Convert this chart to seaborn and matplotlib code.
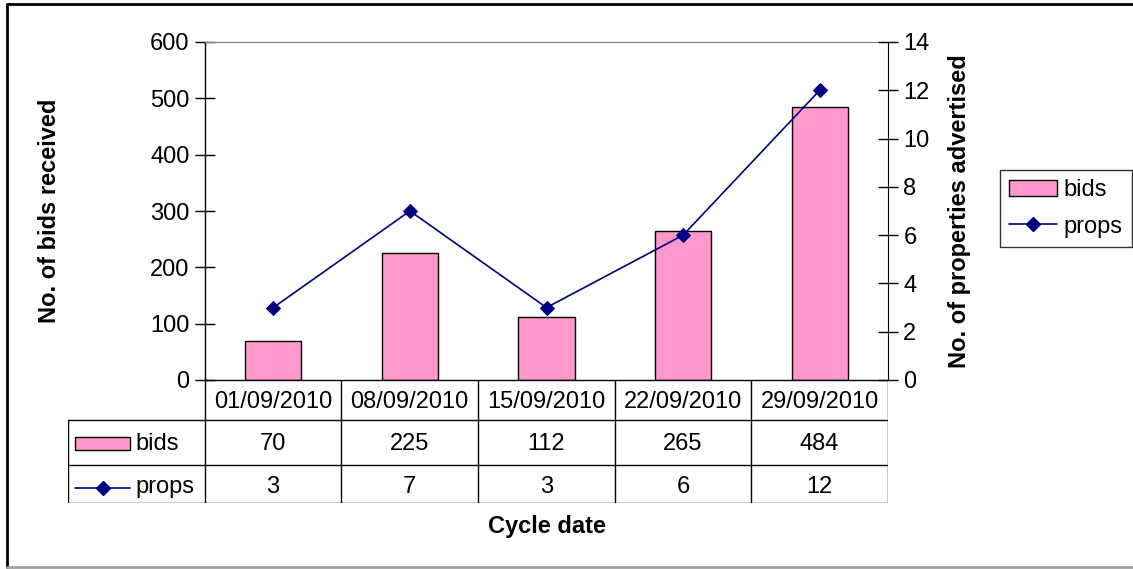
import numpy as np
import pandas as pd
import matplotlib
matplotlib.use("Agg")
import matplotlib.pyplot as plt
from matplotlib.patches import Rectangle
from matplotlib.lines import Line2D
import seaborn as sns

dates = ["01/09/2010", "08/09/2010", "15/09/2010", "22/09/2010", "29/09/2010"]
bids = [70, 225, 112, 265, 484]
props = [3, 7, 3, 6, 12]
series_names = ["bids", "props"]
left_ticks = [0, 100, 200, 300, 400, 500, 600]
right_ticks = [0, 2, 4, 6, 8, 10, 12, 14]

sns.set_style("white")
plt.rcParams['font.family'] = ['Liberation Sans', 'DejaVu Sans']
for k in ["text.color", "axes.labelcolor", "xtick.color", "ytick.color"]:
    plt.rcParams[k] = "black"

W, H = 1133, 569
fig = plt.figure(figsize=(W / 100, H / 100), dpi=100)

PINK = "#FF99CC"
NAVY = "#000080"
FS = 17

def fx(px):
    return px / W

def fy(py):
    return 1 - py / H

# main axes
ax = fig.add_axes([fx(205), fy(380), fx(888) - fx(205), fy(42) - fy(380)])
df = pd.DataFrame({"date": dates, "bids": bids, "props": props})
sns.barplot(data=df, x="date", y="bids", ax=ax, color=PINK, edgecolor="black",
            linewidth=1, width=0.41, saturation=1)
ax.set_xlim(-0.5, len(dates) - 0.5)
ax.set_ylim(left_ticks[0], left_ticks[-1])
ax.set_yticks(left_ticks)
ax.set_xticks([])
ax.set_xlabel("")
ax.set_ylabel("No. of bids received", fontsize=FS, fontweight="bold")
ax.yaxis.set_label_coords((61 - 205) / 683, 0.5)
ax.tick_params(axis="y", direction="inout", length=14, width=1, labelsize=FS, pad=4, left=True)
for s in ["left", "bottom"]:
    ax.spines[s].set_color("black")
    ax.spines[s].set_linewidth(1)
ax.spines["top"].set_color("#808080")
ax.spines["right"].set_visible(False)

ax2 = ax.twinx()
sns.lineplot(x=np.arange(len(dates)), y=props, ax=ax2, color=NAVY, marker="D",
             markersize=7, markeredgecolor=NAVY, linewidth=1.2)
ax2.set_xlim(-0.5, len(dates) - 0.5)
ax2.set_ylim(right_ticks[0], right_ticks[-1])
ax2.set_yticks(right_ticks)
ax2.set_ylabel("No. of properties advertised", fontsize=FS, fontweight="bold")
ax2.yaxis.set_label_coords((948 - 205) / 683, 0.5)
ax2.tick_params(axis="y", direction="inout", length=14, width=1, labelsize=FS, pad=4, right=True)
ax2.spines["right"].set_visible(True)
ax2.spines["right"].set_color("black")
for s in ["left", "top", "bottom"]:
    ax2.spines[s].set_visible(False)

# data table
tab = fig.add_axes([fx(68), fy(503), fx(888) - fx(68), fy(380) - fy(503)])
tab.set_xlim(-1.5, len(dates) - 0.5)
tab.set_ylim(123, 0)
tab.axis("off")
n = len(dates)
lc = "black"
tab.plot([-1.5, n - 0.5], [40, 40], color=lc, lw=1)
tab.plot([-1.5, n - 0.5], [85, 85], color=lc, lw=1)
tab.plot([-1.5, n - 0.5], [122.5, 122.5], color=lc, lw=1)
tab.plot([-1.5, -1.5], [40, 123], color=lc, lw=1)
for i in range(n + 1):
    tab.plot([i - 0.5, i - 0.5], [0, 123], color=lc, lw=1)
for i, d in enumerate(dates):
    tab.text(i, 22, d, ha="center", va="center", fontsize=FS)
    tab.text(i, 64, str(bids[i]), ha="center", va="center", fontsize=FS)
    tab.text(i, 107, str(props[i]), ha="center", va="center", fontsize=FS)
tab.add_patch(Rectangle((-1.449, 57), 0.403, 13, facecolor=PINK, edgecolor="black", lw=1))
tab.text(-1.01, 64, series_names[0], ha="left", va="center", fontsize=FS)
tab.plot([-1.449, -1.046], [108, 108], color=NAVY, lw=1.2)
tab.plot([-1.2475], [108], marker="D", color=NAVY, markersize=7)
tab.text(-1.01, 107, series_names[1], ha="left", va="center", fontsize=FS)

fig.text(fx(546.5), fy(527), "Cycle date", ha="center", va="center", fontsize=FS, fontweight="bold")

# legend
handles = [Rectangle((0, 0), 1, 1, facecolor=PINK, edgecolor="black", lw=1),
           Line2D([0], [0], color=NAVY, lw=1.2, marker="D", markersize=7)]
leg = fig.legend(handles, series_names, loc="upper left",
                 bbox_to_anchor=(fx(1000), fy(170)), fontsize=FS, frameon=True,
                 fancybox=False, shadow=False, handlelength=2.0, borderpad=0.4,
                 labelspacing=0.6, handletextpad=0.3, borderaxespad=0)
leg.get_frame().set_edgecolor("black")
leg.get_frame().set_linewidth(1)

# figure border
fig.add_artist(Line2D([fx(7), fx(7)], [fy(4), fy(567)], color="black", lw=2, transform=fig.transFigure))
fig.add_artist(Line2D([fx(7), 1], [fy(4), fy(4)], color="black", lw=2, transform=fig.transFigure))
fig.add_artist(Line2D([fx(7), 1], [fy(567), fy(567)], color="#A0A0A0", lw=2, transform=fig.transFigure))

fig.savefig("out.png", dpi=100)
